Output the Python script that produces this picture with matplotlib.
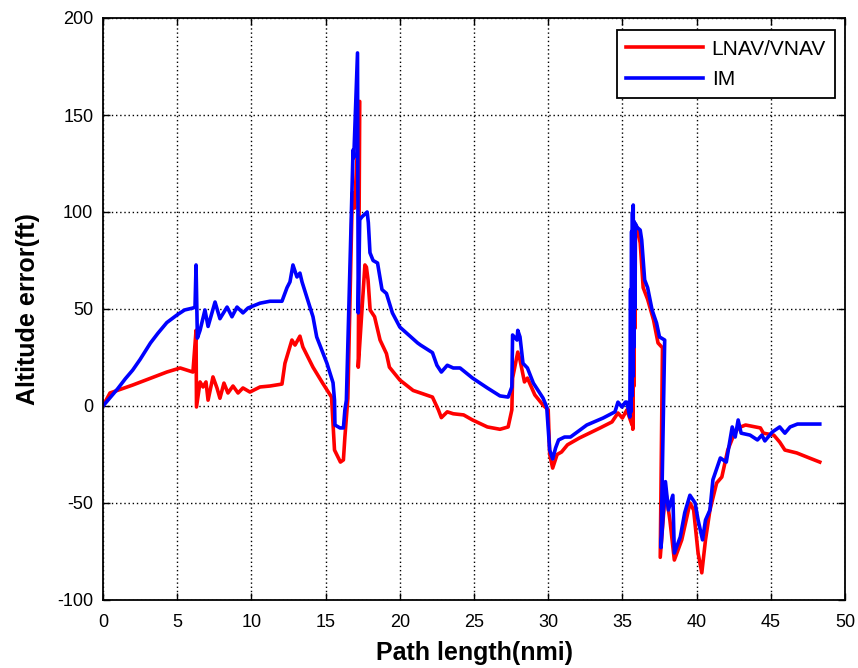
import matplotlib
matplotlib.use("Agg")
import matplotlib.pyplot as plt

plt.rcParams['font.family'] = ['Liberation Sans', 'DejaVu Sans']
plt.rcParams['axes.unicode_minus'] = False

# IM series
im_x = [0, 0.5, 1.0, 1.5, 2.0, 2.5, 3.2, 3.7, 4.3, 5.0, 5.5, 6.06, 6.2, 6.27, 6.36, 6.54, 6.87, 7.08, 7.55,
        7.88, 8.36, 8.69, 9.03, 9.43, 9.77, 10.58, 11.25, 12.06, 12.4, 12.6, 12.8, 13.07, 13.27, 13.41,
        14.15, 14.4, 15.09, 15.5, 15.6, 15.63, 15.97, 16.2, 16.3, 16.4, 16.85, 16.9, 17.15, 17.2, 17.3,
        17.45, 17.8, 17.88, 17.99, 18.2, 18.5, 18.8, 19.1, 19.5, 20.0, 21.2, 21.4, 22.2, 22.5, 22.8, 23.2,
        23.6, 24.06, 24.9, 25.9, 26.75, 27.3, 27.55, 27.6, 27.9, 27.95, 28.1, 28.3, 28.6, 29.0, 29.3,
        29.65, 29.9, 30.1, 30.3, 30.5, 30.7, 31.1, 31.5, 32.6, 33.7, 34.5, 34.7, 34.97, 35.2, 35.3,
        35.5, 35.55, 35.58, 35.62, 35.64, 35.68, 35.7, 35.73, 35.76, 35.8, 35.83, 35.87, 36.0, 36.2,
        36.3, 36.5, 36.7, 37.0, 37.3, 37.5, 37.85, 37.6, 37.9, 38.1, 38.4, 38.5, 38.9, 39.2, 39.55,
        39.9, 40.1, 40.4, 40.6, 40.9, 41.1, 41.6, 42.0, 42.4, 42.6, 42.8, 43.0, 43.6, 44.1, 44.4, 44.6,
        45.1, 45.6, 45.95, 46.3, 46.8, 48.3]
im_y = [0, 4.5, 9, 14, 18.5, 24, 32.5, 37.5, 43, 47, 49.5, 50.5, 51, 72.7, 35, 39, 49.5, 41, 53.6,
        45, 51, 46, 51, 48, 50.5, 53, 54, 54, 61, 64, 72.7, 66.5, 68.5, 64,
        46, 35.6, 22, 12, 3, -9.8, -11.3, -11.3, -2, 3, 132, 128, 182, 48, 96,
        97.5, 100, 94.5, 79, 75, 73.7, 60, 58, 48, 40.7, 32.5, 31.4, 27.5, 21, 17.5, 21,
        19.6, 19.6, 14.4, 9.3, 5.2, 4.6, 9.8, 36.6, 34, 39, 35.6, 22, 19.6, 11.8, 8.2,
        4.1, -0.5, -22.7, -27.3, -21.6, -17.5, -16, -16, -9.8, -6.2, -3, 2, -0.5, 2, 2,
        -5.7, 60, -3, 90, 5, 100, 15, 103.6, 30, 95, 50, 94, 92, 90.7,
        85.6, 65, 61, 49.5, 42.8, 35.6, 34, -73, -39, -53.6, -46, -75.8, -67.5, -55, -46,
        -50, -58.8, -69, -58.8, -53.6, -38, -26.8, -28.9, -10.8, -16, -7.2, -14, -15, -17.5, -15, -18,
        -13.4, -10.8, -14, -10.8, -9.3, -9.3]

# LNAV/VNAV series
ln_x = [0, 0.47, 2.0, 4.3, 5.2, 6.06, 6.27, 6.3, 6.54, 6.74, 6.94, 7.08, 7.41, 7.68, 7.88, 8.15, 8.42,
        8.76, 9.1, 9.43, 9.9, 10.58, 11.25, 12.06, 12.26, 12.73, 12.94, 13.27, 13.47, 14.15, 14.8, 15.4,
        15.6, 16.0, 16.2, 16.3, 16.5, 16.8, 16.95, 17.3, 17.2, 17.45, 17.65, 17.75, 17.86, 18.0, 18.3,
        18.67, 19.1, 19.3, 20.0, 20.9, 21.4, 22.2, 22.6, 22.8, 23.2, 23.6, 24.3, 24.9, 25.9, 26.75,
        27.3, 27.55, 27.6, 27.95, 28.1, 28.4, 28.6, 29.1, 29.65, 30.0, 30.1, 30.3, 30.6, 30.9, 31.3,
        32.1, 33.5, 34.3, 34.7, 35.0, 35.3, 35.65, 35.68, 35.7, 35.74, 35.76, 35.8, 35.84, 35.88, 36.0,
        36.2, 36.4, 36.7, 37.1, 37.4, 37.7, 37.55, 37.9, 38.2, 38.5, 39.0, 39.35, 39.55, 39.8, 40.1,
        40.35, 40.6, 40.9, 41.35, 41.7, 42.1, 42.45, 42.8, 43.3, 44.3, 44.5, 45.2, 45.6, 45.95, 46.75,
        47.6, 48.3]
ln_y = [0, 6.7, 10.8, 17.5, 19.6, 17.5, 39, -0.5, 12.4, 9.8, 12.4, 3, 15, 9.3, 4, 11.8, 6.7,
        10.3, 6.7, 9.3, 7.2, 9.8, 10.3, 11.3, 22, 34, 31.4, 36, 30.4, 20, 11.8, 4.6,
        -22.7, -28.9, -27.8, -16, 4, 110, 102, 157, 20, 49.5, 72.7, 71.6, 65, 49.5, 46,
        34, 27, 20, 13.4, 8, 6.7, 4.6, -2, -6, -3, -4, -4.6, -7.2, -10.8, -12,
        -10.8, -2, 14.4, 27.8, 23.7, 12.4, 14.4, 5.7, 0.5, -2, -25, -32, -25, -23.7, -20,
        -16.5, -11.3, -8.2, -3.6, -6.2, -2, -9.8, 40, -12, 80, 10, 90, 40, 88, 92,
        84, 61, 55, 44.3, 32.5, 30, -78, -43, -58.8, -79.4, -69, -57, -50, -53.6, -75.8,
        -86, -69, -53.6, -39.7, -36.6, -22.7, -16, -11.3, -9.8, -11.3, -14, -15, -18.6, -22.7, -24.2,
        -26.8, -28.9]

x_ticks = [0, 5, 10, 15, 20, 25, 30, 35, 40, 45, 50]
y_ticks = [-100, -50, 0, 50, 100, 150, 200]

fig = plt.figure(figsize=(8.58, 6.68), dpi=100)
ax = fig.add_axes([103/858, 1-600/668, 742/858, 582/668])

ax.plot(ln_x, ln_y, color='#ff0000', lw=2.6, label='LNAV/VNAV')
ax.plot(im_x, im_y, color='#0000ff', lw=2.6, label='IM')

ax.set_xlim(0, 50)
ax.set_ylim(-100, 200)
ax.set_xticks(x_ticks)
ax.set_yticks(y_ticks)
ax.tick_params(direction='in', length=5, width=1, top=True, right=True, labelsize=13)
ax.tick_params(axis='x', pad=10)
ax.tick_params(axis='y', pad=7)
ax.grid(True, color='black', linestyle=(0, (1, 2)), linewidth=1)
for s in ax.spines.values():
    s.set_linewidth(1.3)

ax.set_xlabel('Path length(nmi)', fontsize=18, fontweight='bold', labelpad=7)
ax.set_ylabel('Altitude error(ft)', fontsize=18, fontweight='bold', labelpad=12)

leg = ax.legend(loc='upper right', bbox_to_anchor=(0.987, 0.979), fontsize=15, handlelength=3.7,
                handletextpad=0.4, fancybox=False, framealpha=1, edgecolor='black',
                borderaxespad=0, labelspacing=0.55, borderpad=0.45)
leg.get_frame().set_linewidth(1.3)

fig.savefig('out.png', dpi=100)
